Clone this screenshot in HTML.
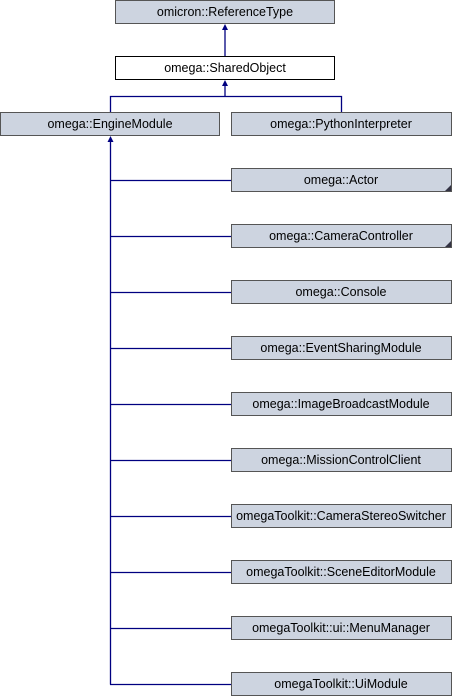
<!DOCTYPE html>
<html><head><meta charset="utf-8"><style>
html,body{margin:0;padding:0;background:#fff;}
svg{display:block;}
text{font-family:"Liberation Sans",Arial,sans-serif;font-size:12.5px;fill:#000;}
</style></head><body>
<svg width="452" height="696" viewBox="0 0 452 696" xmlns="http://www.w3.org/2000/svg">
<g stroke="#000080" stroke-width="1.3" fill="none">
<line x1="225" y1="27" x2="225" y2="56"/>
<line x1="225" y1="83" x2="225" y2="96"/>
<polyline points="110.5,112 110.5,96.5 341.5,96.5 341.5,112"/>
<line x1="110.5" y1="139" x2="110.5" y2="684.5"/>
<line x1="110" y1="180.5" x2="231" y2="180.5"/>
<line x1="110" y1="236.5" x2="231" y2="236.5"/>
<line x1="110" y1="292.5" x2="231" y2="292.5"/>
<line x1="110" y1="348.5" x2="231" y2="348.5"/>
<line x1="110" y1="404.5" x2="231" y2="404.5"/>
<line x1="110" y1="460.5" x2="231" y2="460.5"/>
<line x1="110" y1="516.5" x2="231" y2="516.5"/>
<line x1="110" y1="572.5" x2="231" y2="572.5"/>
<line x1="110" y1="628.5" x2="231" y2="628.5"/>
<line x1="110" y1="684.5" x2="231" y2="684.5"/>
</g>
<g fill="#000080">
<polygon points="225,24 222,30 228,30"/>
<polygon points="225,80 222,86 228,86"/>
<polygon points="110.5,136 107.5,142 113.5,142"/>
</g>
<g stroke="#555" stroke-width="1" fill="#cdd4e0">
<rect x="115.5" y="0.5" width="219" height="23"/>
<rect x="115.5" y="56.5" width="219" height="23" fill="#fff" stroke="#000"/>
<rect x="0.5" y="112.5" width="219" height="23"/>
<rect x="231.5" y="112.5" width="220" height="23"/>
<rect x="231.5" y="168.5" width="220" height="23"/>
<rect x="231.5" y="224.5" width="220" height="23"/>
<rect x="231.5" y="280.5" width="220" height="23"/>
<rect x="231.5" y="336.5" width="220" height="23"/>
<rect x="231.5" y="392.5" width="220" height="23"/>
<rect x="231.5" y="448.5" width="220" height="23"/>
<rect x="231.5" y="504.5" width="220" height="23"/>
<rect x="231.5" y="560.5" width="220" height="23"/>
<rect x="231.5" y="616.5" width="220" height="23"/>
<rect x="231.5" y="672.5" width="220" height="23"/>
</g>
<g fill="#334">
<polygon points="451,185 451,191 445,191"/>
<polygon points="451,241 451,247 445,247"/>
</g>
<g text-anchor="middle">
<text x="225" y="16">omicron::ReferenceType</text>
<text x="225" y="72">omega::SharedObject</text>
<text x="110" y="128">omega::EngineModule</text>
<text x="341" y="128">omega::PythonInterpreter</text>
<text x="341" y="184">omega::Actor</text>
<text x="341" y="240">omega::CameraController</text>
<text x="341" y="296">omega::Console</text>
<text x="341" y="352">omega::EventSharingModule</text>
<text x="341" y="408">omega::ImageBroadcastModule</text>
<text x="341" y="464">omega::MissionControlClient</text>
<text x="341" y="520">omegaToolkit::CameraStereoSwitcher</text>
<text x="341" y="576">omegaToolkit::SceneEditorModule</text>
<text x="341" y="632">omegaToolkit::ui::MenuManager</text>
<text x="341" y="688">omegaToolkit::UiModule</text>
</g>
</svg>
</body></html>
